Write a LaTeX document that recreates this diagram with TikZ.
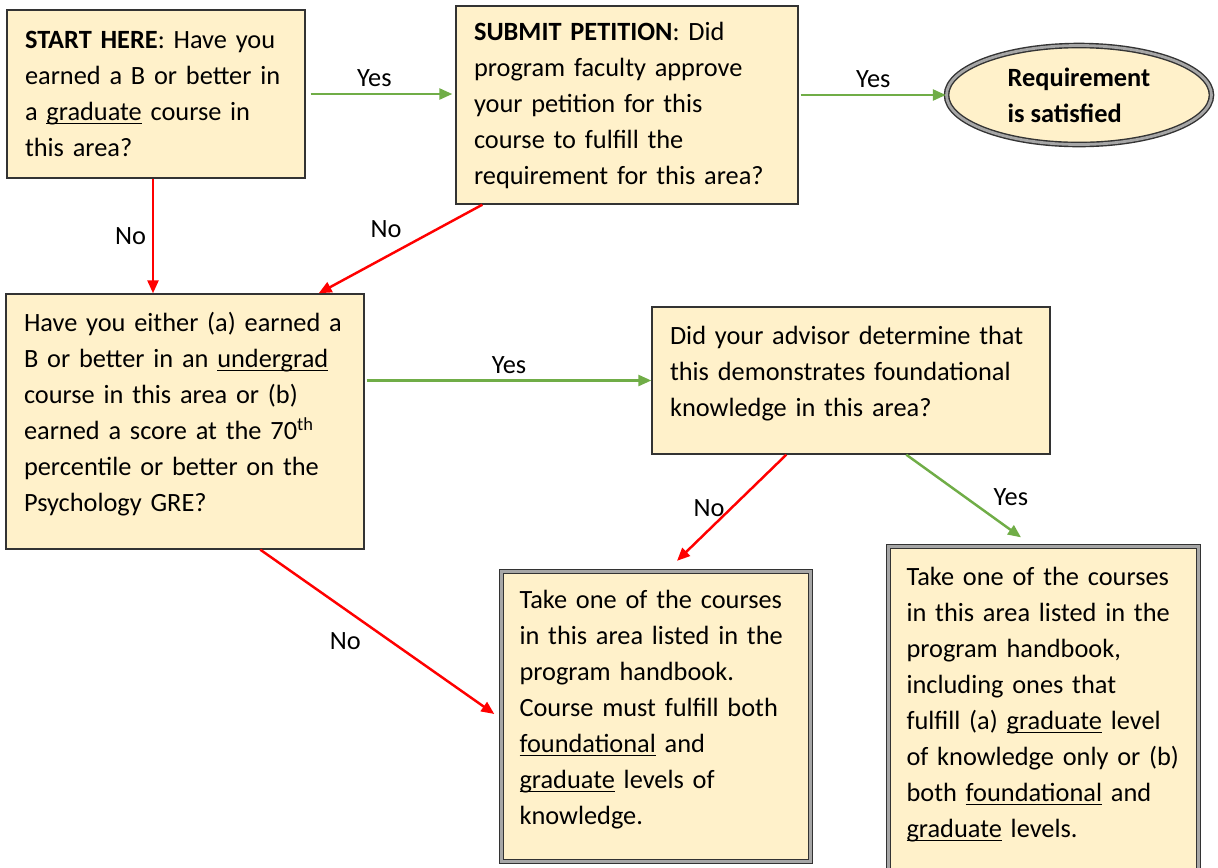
\documentclass[tikz,border=0pt]{standalone}
\usepackage{fontspec}
\setmainfont{Carlito}
\usepackage{xcolor}
\usetikzlibrary{shapes.geometric, positioning, arrows.meta}
\definecolor{boxfill}{HTML}{FFF1CA}
\definecolor{yesgreen}{HTML}{70AD47}
\definecolor{nored}{HTML}{FF0000}
\newcommand{\ulin}[1]{\underline{\smash{#1}}}

\begin{document}
\begin{tikzpicture}[x=0.02cm, y=-0.02cm,
		every node/.style={font=\fontsize{15}{20.5}\selectfont},
		box/.style={draw=black!80, fill=boxfill, line width=0.8pt, align=left, inner xsep=0.36cm, inner ysep=0pt},
		endbox/.style={box, double=black!35, double distance=1.6pt, text height=0.1cm},
		yes/.style={draw=yesgreen, line width=1.4pt, -{Triangle[length=0.26cm, width=0.22cm]}},
		no/.style={draw=nored, line width=1.4pt, -{Triangle[length=0.26cm, width=0.22cm]}}]
			\useasboundingbox (0,0) rectangle (1218,867);

			\node[box, text width=5.24cm, minimum height=3.36cm] (start) at (156,94) {\textbf{START HERE}: Have you\\earned a B or better in\\a \ulin{graduate} course in\\this area?};
			\node[box, text width=6.12cm, minimum height=3.96cm] (petition) at (627,105) {\textbf{SUBMIT PETITION}: Did\\program faculty approve\\your petition for this\\course to fulfill the\\requirement for this area?};
			\node[ellipse, draw=black!80, fill=boxfill, line width=0.8pt, double=black!35, double distance=1.6pt, minimum width=5.3cm, minimum height=1.98cm, align=left, font=\fontsize{15}{20.5}\selectfont\bfseries] (satisfied) at (1079,95) {Requirement\\is satisfied};
			\node[box, text width=6.44cm, minimum height=5.1cm, text height=0.1cm] (either) at (185,421.5) {Have you either (a) earned a\\B or better in an \ulin{undergrad}\\course in this area or (b)\\earned a score at the 70\textsuperscript{th}\\percentile or better on the\\Psychology GRE?};
			\node[box, text width=7.24cm, minimum height=2.94cm, text height=0.1cm] (advisor) at (851,380.5) {Did your advisor determine that\\this demonstrates foundational\\knowledge in this area?};
			\node[endbox, text width=5.46cm, minimum height=5.8cm] (takefound) at (656,716.5) {Take one of the courses\\in this area listed in the\\program handbook.\\Course must fulfill both\\\ulin{foundational} and\\\ulin{graduate} levels of\\knowledge.};
			\node[endbox, text width=5.48cm, minimum height=6.58cm] (takeany) at (1043.5,711) {Take one of the courses\\in this area listed in the\\program handbook,\\including ones that\\fulfill (a) \ulin{graduate} level\\of knowledge only or (b)\\both \ulin{foundational} and\\\ulin{graduate} levels.};

			\draw ([xshift=0.1cm]start.east) edge[yes] node[above, pos=.45]{Yes} ([xshift=-0.06cm]start.east -| petition.west);
			\draw ([xshift=0.04cm]satisfied.west -| petition.east) edge[yes] node[above]{Yes} (satisfied.west);
			\draw ([xshift=-0.06cm]start.south) edge[no] node[left]{No} ([xshift=-0.06cm]start.south |- either.north);
			\draw ([xshift=0.54cm]petition.south west) edge[no] node[above left, pos=.45]{No} ([xshift=-0.92cm]either.north east);
			\draw ([xshift=0.04cm]advisor.west -| either.east) edge[yes] node[above]{Yes} (advisor.west);
			\draw ([xshift=2.7cm]advisor.south west) edge[no] node[left]{No} ([xshift=0.42cm, yshift=0.2cm]takefound.north);
			\draw ([xshift=5.1cm]advisor.south west) edge[yes] node[above right, pos=.7]{Yes} ([xshift=-0.45cm, yshift=0.17cm]takeany.north);
			\draw ([xshift=5.1cm]either.south west) edge[no] node[below left, pos=.46]{No} ([xshift=-0.13cm, yshift=0.05cm]takefound.west);
		\end{tikzpicture}
\end{document}
